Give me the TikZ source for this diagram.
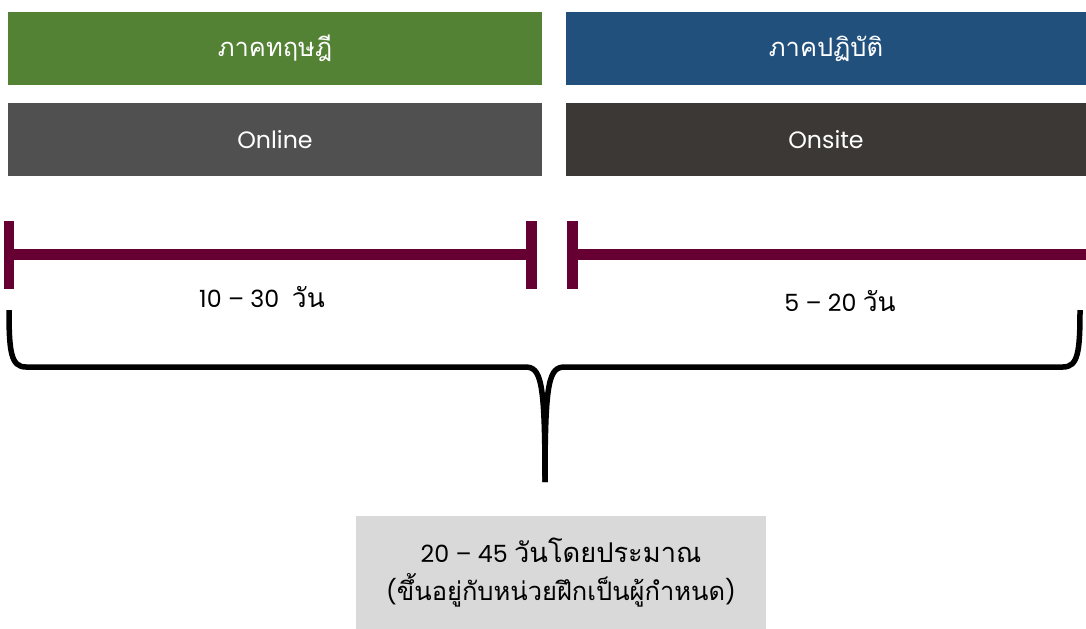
\documentclass[tikz,border=0pt]{standalone}
\usepackage{fontspec}
\setmainfont{Poppins}
\newfontfamily\thaifont[Script=Thai]{Loma}
\usetikzlibrary{positioning}

\definecolor{theorygreen}{HTML}{548235}
\definecolor{practiceblue}{HTML}{22507C}
\definecolor{onlinegray}{HTML}{505050}
\definecolor{onsitegray}{HTML}{3B3835}
\definecolor{barmaroon}{HTML}{660033}
\definecolor{notegray}{HTML}{D9D9D9}

\tikzset{
    phasebox/.style={rectangle, inner sep=0, minimum height=1.46cm, text=white,
                     font=\fontsize{13.5}{16}\selectfont},
    daylabel/.style={inner sep=0, font=\fontsize{13.5}{16}\selectfont},
    bar/.style={barmaroon, line width=0.22cm},
}

\begin{document}
\begin{tikzpicture}[x=0.02cm, y=-0.02cm]
    \useasboundingbox (0,0) rectangle (1086,629);

    % Phase boxes
    \node[phasebox, fill=theorygreen, minimum width=10.68cm] (theory) at (275,48.5) {\thaifont\fontsize{14.5}{16}\selectfont ภาคทฤษฎี};
    \node[phasebox, fill=practiceblue, minimum width=10.4cm] (practice) at (826,48.5) {\thaifont\fontsize{14.5}{16}\selectfont ภาคปฏิบัติ};
    \node[phasebox, fill=onlinegray, minimum width=10.68cm, below=0.34cm of theory] (online) {Online};
    \node[phasebox, fill=onsitegray, minimum width=10.4cm, below=0.34cm of practice] (onsite) {Onsite};

    % Duration bars
    \coordinate (lstart) at (9,254.5);
    \coordinate (lend) at (531.5,254.5);
    \coordinate (rstart) at (572.5,254.5);
    \coordinate (rend) at (1086,254.5);
    \draw[bar] (lstart) -- (lend);
    \draw[bar] (lstart |- 0,221) -- (lstart |- 0,289);
    \draw[bar] (lend |- 0,221) -- (lend |- 0,289);
    \draw[bar] (rstart) -- (rend);
    \draw[bar] (rstart |- 0,221) -- (rstart |- 0,289);

    \node[daylabel] (ldays) at (262,297) {10 -- 30\ \ {\thaifont\fontsize{15}{16}\selectfont วัน}};
    \node[daylabel] (rdays) at (840,301) {5 -- 20 {\thaifont\fontsize{15}{16}\selectfont วัน}};

    % Brace
    \coordinate (tip) at (545,482);
    \draw[line width=0.11cm, line join=round]
        (9,310) .. controls (9,352) and (11,367) .. (26,367) -- (525,367)
        .. controls (541,367) and (545,380) .. (tip);
    \draw[line width=0.11cm, line join=round]
        (1080,310) .. controls (1080,352) and (1078,367) .. (1063,367) -- (565,367)
        .. controls (549,367) and (545,380) .. (tip);

    % Total
    \node[fill=notegray, minimum width=8.2cm, minimum height=2.26cm, inner sep=0,
          align=center, font=\fontsize{13.5}{22}\selectfont] (total) at (561,572.5)
        {20 -- 45 {\thaifont\fontsize{15.5}{16}\selectfont วันโดยประมาณ}\\
         ({\thaifont\fontsize{14.5}{16}\selectfont ขึ้นอยู่กับหน่วยฝึกเป็นผู้กำหนด})};
\end{tikzpicture}
\end{document}
